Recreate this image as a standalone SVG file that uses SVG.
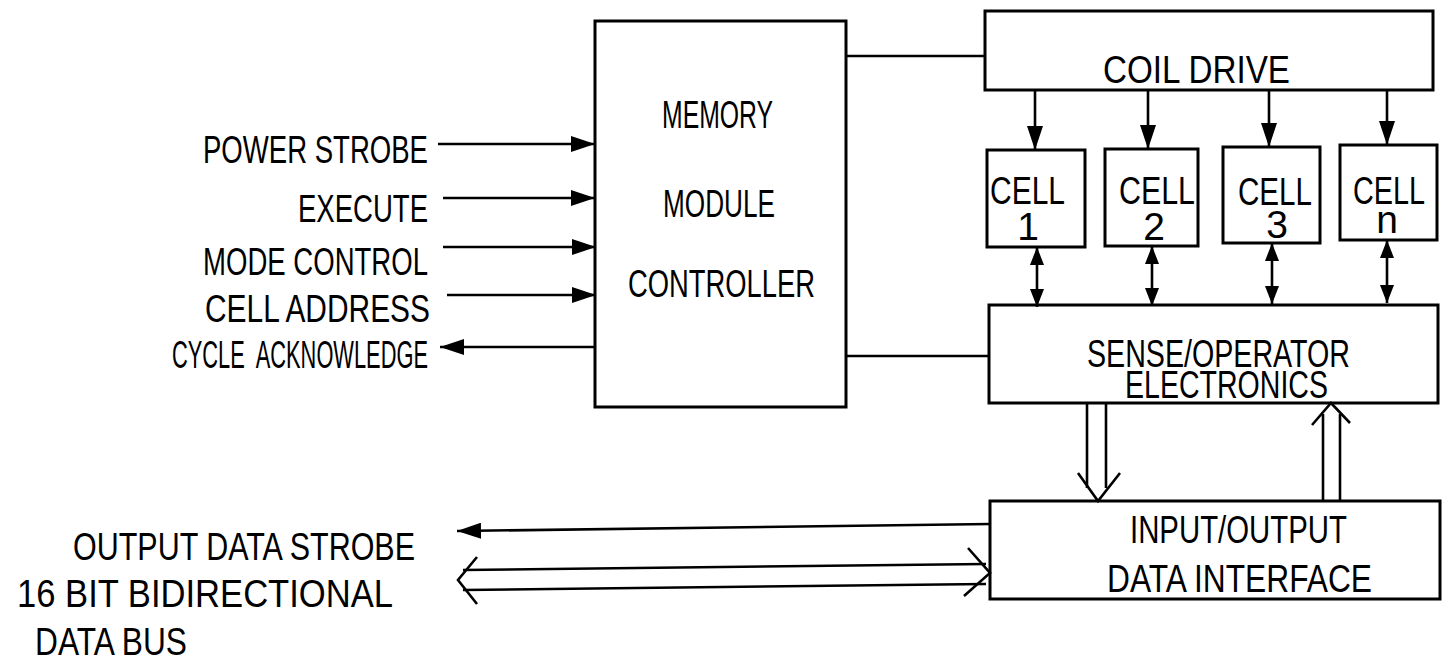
<svg xmlns="http://www.w3.org/2000/svg" width="1448" height="665" viewBox="0 0 1448 665">
<style>
  .t { font-family: "Liberation Sans", Arial, sans-serif; font-size: 39px; fill: #000; }
  .box { fill: #fff; stroke: #000; stroke-width: 3; }
  .ln { fill: none; stroke: #000; stroke-width: 2.6; }
  .open { fill: none; stroke: #000; stroke-width: 2.6; stroke-linejoin: miter; }
</style>
<defs>
  <marker id="ah" markerWidth="24" markerHeight="16" refX="24" refY="8" orient="auto-start-reverse" markerUnits="userSpaceOnUse">
    <path d="M0,0 L24,8 L0,16 Z" fill="#000"/>
  </marker>
  <marker id="ab" markerWidth="18" markerHeight="14" refX="18" refY="7" orient="auto-start-reverse" markerUnits="userSpaceOnUse">
    <path d="M0,0 L18,7 L0,14 Z" fill="#000"/>
  </marker>
</defs>
<rect width="1448" height="665" fill="#fff"/>

<g id="controller">
  <rect class="box" x="595" y="21" width="251" height="386"/>
  <text class="t" x="662" y="128" textLength="111" lengthAdjust="spacingAndGlyphs">MEMORY</text>
  <text class="t" x="663" y="217" textLength="112" lengthAdjust="spacingAndGlyphs">MODULE</text>
  <text class="t" x="628" y="297" textLength="187" lengthAdjust="spacingAndGlyphs">CONTROLLER</text>
</g>

<g id="coil-drive">
  <rect class="box" x="985" y="11" width="448" height="79"/>
  <text class="t" x="1103" y="83" textLength="187" lengthAdjust="spacingAndGlyphs">COIL DRIVE</text>
</g>

<g id="cell-1">
  <rect class="box" x="987" y="150" width="98" height="97"/>
  <text class="t" x="990" y="204" textLength="75" lengthAdjust="spacingAndGlyphs">CELL</text>
  <text class="t" x="1028" y="240" text-anchor="middle">1</text>
</g>
<g id="cell-2">
  <rect class="box" x="1105" y="149" width="93" height="97"/>
  <text class="t" x="1119" y="204" textLength="76" lengthAdjust="spacingAndGlyphs">CELL</text>
  <text class="t" x="1154" y="240" text-anchor="middle">2</text>
</g>
<g id="cell-3">
  <rect class="box" x="1223" y="147" width="97" height="96"/>
  <text class="t" x="1238" y="205" textLength="74" lengthAdjust="spacingAndGlyphs">CELL</text>
  <text class="t" x="1277" y="238" text-anchor="middle">3</text>
</g>
<g id="cell-n">
  <rect class="box" x="1340" y="145" width="97" height="95"/>
  <text class="t" x="1353" y="204" textLength="72" lengthAdjust="spacingAndGlyphs">CELL</text>
  <text class="t" x="1387" y="233" text-anchor="middle">n</text>
</g>

<g id="sense">
  <rect class="box" x="989" y="305" width="449" height="98"/>
  <text class="t" x="1087" y="367" textLength="263" lengthAdjust="spacingAndGlyphs">SENSE/OPERATOR</text>
  <text class="t" x="1125" y="398" textLength="203" lengthAdjust="spacingAndGlyphs">ELECTRONICS</text>
</g>

<g id="io">
  <rect class="box" x="990" y="501" width="450" height="98"/>
  <text class="t" x="1130" y="543" textLength="217" lengthAdjust="spacingAndGlyphs">INPUT/OUTPUT</text>
  <text class="t" x="1107" y="592" textLength="265" lengthAdjust="spacingAndGlyphs">DATA INTERFACE</text>
</g>

<g id="labels">
  <text class="t" x="203" y="163" textLength="225" lengthAdjust="spacingAndGlyphs">POWER STROBE</text>
  <text class="t" x="298" y="222" textLength="130" lengthAdjust="spacingAndGlyphs">EXECUTE</text>
  <text class="t" x="203" y="275" textLength="225" lengthAdjust="spacingAndGlyphs">MODE CONTROL</text>
  <text class="t" x="205" y="322" textLength="225" lengthAdjust="spacingAndGlyphs">CELL ADDRESS</text>
  <text class="t" x="172" y="368" textLength="256" lengthAdjust="spacingAndGlyphs" xml:space="preserve">CYCLE  ACKNOWLEDGE</text>
  <text class="t" x="73" y="560" textLength="342" lengthAdjust="spacingAndGlyphs">OUTPUT DATA STROBE</text>
  <text class="t" x="17" y="607" textLength="376" lengthAdjust="spacingAndGlyphs">16 BIT BIDIRECTIONAL</text>
  <text class="t" x="35" y="655" textLength="152" lengthAdjust="spacingAndGlyphs">DATA BUS</text>
</g>

<g id="connectors">
  <!-- inputs to controller -->
  <line class="ln" x1="438" y1="144" x2="595" y2="144" marker-end="url(#ah)"/>
  <line class="ln" x1="443" y1="198" x2="595" y2="198" marker-end="url(#ah)"/>
  <line class="ln" x1="443" y1="247" x2="596" y2="247" marker-end="url(#ah)"/>
  <line class="ln" x1="447" y1="295" x2="596" y2="295" marker-end="url(#ah)"/>
  <line class="ln" x1="596" y1="347" x2="440" y2="347" marker-end="url(#ah)"/>
  <!-- controller to coil drive / sense -->
  <line class="ln" x1="846" y1="56" x2="985" y2="56"/>
  <line class="ln" x1="846" y1="356" x2="989" y2="356"/>
  <!-- coil drive to cells -->
  <line class="ln" x1="1035" y1="90" x2="1035" y2="150" marker-end="url(#ah)"/>
  <line class="ln" x1="1148" y1="90" x2="1148" y2="149" marker-end="url(#ah)"/>
  <line class="ln" x1="1269" y1="89" x2="1269" y2="147" marker-end="url(#ah)"/>
  <line class="ln" x1="1387" y1="89" x2="1387" y2="145" marker-end="url(#ah)"/>
  <!-- cells to sense (bidirectional) -->
  <line class="ln" x1="1037" y1="247" x2="1037" y2="307" marker-start="url(#ab)" marker-end="url(#ab)"/>
  <line class="ln" x1="1152" y1="246" x2="1152" y2="306" marker-start="url(#ab)" marker-end="url(#ab)"/>
  <line class="ln" x1="1272" y1="243" x2="1272" y2="304" marker-start="url(#ab)" marker-end="url(#ab)"/>
  <line class="ln" x1="1387" y1="240" x2="1387" y2="303" marker-start="url(#ab)" marker-end="url(#ab)"/>
  <!-- sense to io (double line, down) -->
  <line class="ln" x1="1087" y1="403" x2="1087" y2="488"/>
  <line class="ln" x1="1106" y1="403" x2="1106" y2="488"/>
  <polyline class="open" points="1078,473 1098,501 1120,473"/>
  <!-- io to sense (double line, up) -->
  <line class="ln" x1="1323" y1="501" x2="1323" y2="414"/>
  <line class="ln" x1="1340" y1="501" x2="1340" y2="414"/>
  <polyline class="open" points="1312,425 1331,403 1350,423"/>
  <!-- output data strobe -->
  <line class="ln" x1="990" y1="524" x2="457" y2="531" marker-end="url(#ah)"/>
  <!-- 16 bit bidirectional bus (double line) -->
  <line class="ln" x1="463" y1="570" x2="986" y2="564"/>
  <line class="ln" x1="463" y1="590" x2="986" y2="584"/>
  <polyline class="open" points="477,557 458,580 477,604"/>
  <polyline class="open" points="968,548 990,573 964,596"/>
</g>
</svg>
